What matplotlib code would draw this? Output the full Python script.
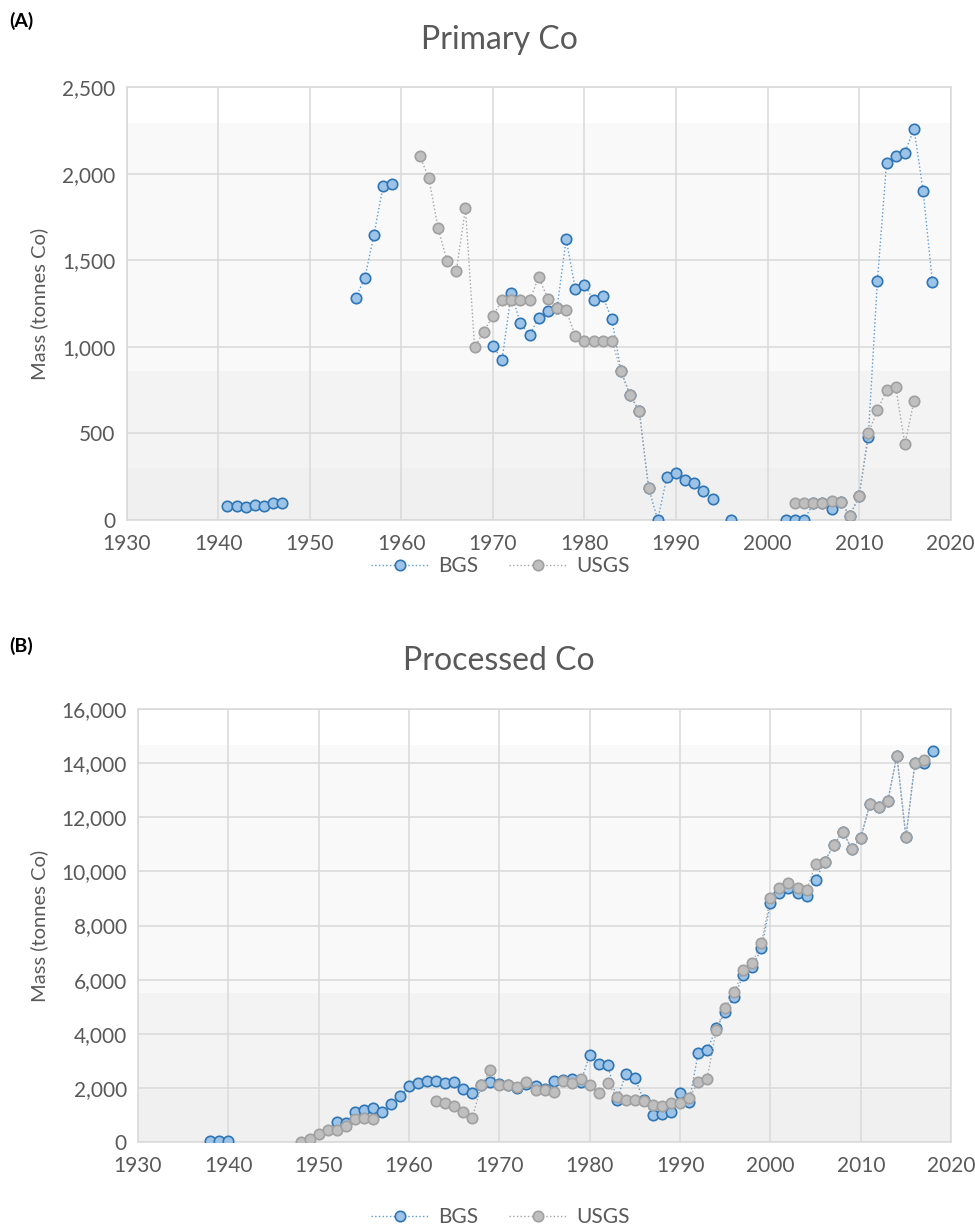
import numpy as np
import matplotlib
matplotlib.use("Agg")
import matplotlib.pyplot as plt

nan = np.nan

# (A) Primary Co
a_bgs_years = list(range(1941, 2019))
a_bgs = [79, 79, 77, 85, 81, 98, 98,
         nan, nan, nan, nan, nan, nan, nan,
         1283, 1396, 1646, 1929, 1938,
         nan, nan, nan, nan, nan, nan, nan, nan, nan, nan,
         1006, 925, 1310, 1137, 1067, 1169, 1208, 1222, 1623, 1333,
         1360, 1269, 1292, 1158, 858, 719, 627, 187, 0, 248,
         271, 233, 213, 165, 119, nan, 0,
         nan, nan, nan, nan, nan,
         0, 0, 0, 96, 96, 63, 102, 25, 138,
         477, 1381, 2063, 2104, 2121, 2261, 1900, 1377]

a_usgs_years = list(range(1962, 2017))
a_usgs = [2104, 1975, 1687, 1494, 1438, 1800, 998, 1088,
          1179, 1269, 1269, 1269, 1269, 1402, 1279, 1227, 1211, 1063,
          1035, 1035, 1035, 1035, 858, 719, 627, 187,
          nan, nan, nan, nan, nan, nan, nan, nan, nan, nan, nan, nan, nan, nan, nan,
          96, 96, 96, 96, 112, 102, 25, 138,
          500, 633, 750, 769, 438, 688]

# (B) Processed Co
b_bgs_years = list(range(1938, 2019))
b_bgs = [30, 30, 50,
         nan, nan, nan, nan, nan, nan, nan, nan, nan, nan, nan,
         726, 710, 1095, 1194, 1255, 1120, 1391, 1699,
         2055, 2167, 2265, 2265, 2179, 2228, 1945, 1810, 2100, 2203,
         2150, 2100, 2000, 2150, 2056, 1950, 2240, 2277, 2327, 2203,
         3225, 2893, 2831, 1563, 2499, 2351, 1540, 985, 1046, 1108,
         1810, 1465, 3287, 3385, 4210, 4789, 5355, 6180, 6450, 7152,
         8814, 9183, 9380, 9183, 9097, 9676, 10365, 10981, 11461, 10845,
         11227, 12495, 12396, 12618, 14280, 11264, 14021, 14021, 14452]

b_usgs_years = list(range(1948, 2018))
b_usgs = [10, 110,
          308, 443, 443, 590, 849, 886, 862,
          nan, nan, nan, nan, nan, nan,
          1526, 1440, 1341, 1108, 886, 2093, 2647,
          2117, 2093, 2020, 2203, 1933, 1908, 1859, 2240, 2179, 2327,
          2117, 1810, 2167, 1674, 1551, 1539, 1502, 1354, 1317, 1440,
          1440, 1625, 2203, 2339, 4148, 4961, 5527, 6340, 6623, 7337,
          8999, 9380, 9565, 9368, 9294, 10267, 10365, 10981, 11461, 10845,
          11227, 12495, 12396, 12618, 14280, 11264, 14021, 14120]

x_ticks = list(range(1930, 2021, 10))

plt.rcParams['font.family'] = ['Lato', 'DejaVu Sans']
txt = '#595959'
grid_c = '#d9d9d9'

fig = plt.figure(figsize=(9.75, 12.26), dpi=100)
ax1 = fig.add_axes([0.130, 0.5759, 0.845, 0.353])
ax2 = fig.add_axes([0.1415, 0.0685, 0.834, 0.3532])


def style(ax, ymax, ystep):
    ax.set_xlim(1930, 2020)
    ax.set_ylim(0, ymax)
    ax.set_xticks(x_ticks)
    ax.set_yticks(np.arange(0, ymax + 1, ystep))
    ax.yaxis.set_major_formatter(matplotlib.ticker.FuncFormatter(lambda v, p: f"{int(v):,}"))
    ax.tick_params(length=0, labelsize=15, colors=txt, pad=8)
    ax.tick_params(axis='x', pad=10)
    ax.grid(True, color=grid_c, lw=1.1)
    ax.set_axisbelow(True)
    for s in ax.spines.values():
        s.set_color(grid_c)
        s.set_linewidth(1.1)
    # soft background bands
    bands = [(0.0, 0.12, '#f0f0f0'), (0.12, 0.345, '#f3f3f3'),
             (0.345, 0.917, '#f9f9f9'), (0.917, 1.0, '#ffffff')]
    for y0, y1, c in bands:
        ax.axhspan(y0 * ymax, y1 * ymax, color=c, zorder=0, lw=0)
    ax.set_ylabel('Mass (tonnes Co)', fontsize=14.5, color=txt)


def draw(ax, xb, yb, xu, yu):
    ax.plot(xb, yb, ls=':', lw=1.0, color='#5b9bd5', marker='o', ms=7.5,
            mfc='#9dc3e6', mec='#2e75b6', mew=1.2, label='BGS', zorder=3)
    ax.plot(xu, yu, ls=':', lw=1.0, color='#a5a5a5', marker='o', ms=7.5,
            mfc='#bfbfbf', mec='#a0a0a0', mew=1.2, label='USGS', zorder=4)


style(ax1, 2500, 500)
draw(ax1, a_bgs_years, a_bgs, a_usgs_years, a_usgs)
style(ax2, 16000, 2000)
draw(ax2, b_bgs_years, b_bgs, b_usgs_years, b_usgs)

ax1.yaxis.set_label_coords(-0.095, 0.5)
ax2.yaxis.set_label_coords(-0.110, 0.5)

fig.text(0.512, 0.967, 'Primary Co', ha='center', va='center', fontsize=23, color=txt)
fig.text(0.512, 0.461, 'Processed Co', ha='center', va='center', fontsize=23, color=txt)
fig.text(0.010, 0.983, '(A)', ha='left', va='center', fontsize=14, fontweight='bold', color='black')
fig.text(0.010, 0.473, '(B)', ha='left', va='center', fontsize=14, fontweight='bold', color='black')

for ax, y in [(ax1, 0.538), (ax2, 0.007)]:
    h, l = ax.get_legend_handles_labels()
    fig.legend(h, l, loc='center', bbox_to_anchor=(0.513, y), ncol=2, frameon=False,
               fontsize=15, labelcolor=txt, handlelength=2.8, columnspacing=1.5,
               handletextpad=0.4)

fig.savefig('out.png', dpi=100)
